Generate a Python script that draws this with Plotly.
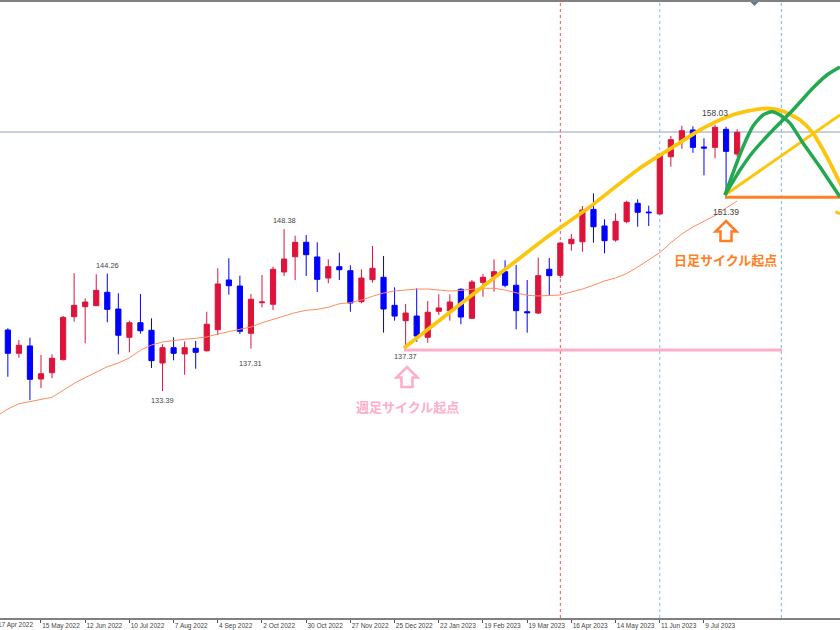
import plotly.graph_objects as go

# Weeks are counted from 15 May 2022 (week 0)
weeks = list(range(-4, 64))
opens = [136.54,139.04,136.88,137.56,134.50,135.08,136.29,140.27,141.20,141.29,142.53,140.98,138.36,139.71,139.01,135.98,
         137.40,136.82,137.34,137.12,139.07,143.67,143.11,138.73,141.57,141.42,144.41,145.82,147.16,145.80,143.85,144.90,
         144.53,141.66,143.70,143.92,141.32,139.90,140.33,138.36,140.77,140.83,142.81,140.12,143.45,143.95,144.44,143.18,
         140.73,140.61,144.66,144.10,147.03,147.21,150.21,148.67,147.37,149.07,150.77,149.96,149.78,155.08,156.57,157.56,
         155.98,155.95,157.62,155.33]
highs = [138.76,139.20,138.11,138.33,136.72,136.79,140.33,144.29,141.97,144.20,144.26,142.44,139.90,142.37,140.12,137.71,
         138.36,137.99,138.02,140.73,144.75,145.68,144.07,142.37,144.13,144.90,148.38,147.77,147.83,147.16,145.58,146.20,
         145.03,144.66,146.82,145.89,142.99,141.45,142.90,141.72,142.34,142.34,142.90,143.67,144.22,145.58,145.49,145.06,
         143.67,145.73,145.70,147.16,147.93,150.52,151.69,149.29,149.84,151.01,151.14,150.55,155.33,157.00,157.95,157.90,
         156.79,158.03,157.86,157.62]
lows = [136.54,134.71,136.47,132.56,133.67,134.57,136.23,139.81,137.81,141.26,139.75,136.79,136.97,138.70,135.52,133.39,
        136.23,134.90,135.45,137.03,138.58,142.31,138.67,137.31,141.14,140.89,144.04,143.67,144.04,142.56,143.36,143.67,
        140.73,141.51,143.42,138.79,139.90,137.37,137.95,137.86,140.43,139.90,139.57,140.08,142.12,142.58,142.99,139.10,
        138.79,140.52,142.28,143.85,146.38,146.29,147.12,146.14,147.21,148.92,148.60,148.67,149.75,154.16,155.80,155.45,
        153.36,154.94,151.39,155.08]
closes = [138.76,136.88,137.62,134.47,134.99,136.42,140.21,141.32,141.63,142.71,140.95,138.55,139.71,138.97,136.20,137.40,
          136.88,137.40,136.97,139.57,143.30,143.14,138.92,141.88,141.63,144.66,145.61,147.16,146.01,143.73,144.90,144.62,
          141.54,143.85,144.75,140.98,140.33,140.61,138.48,140.68,141.08,141.63,140.24,143.48,143.92,144.44,143.18,140.83,
          140.64,144.07,144.07,147.09,147.44,150.15,148.60,147.31,149.10,150.86,149.94,149.90,155.31,156.66,157.49,155.95,
          155.89,157.81,155.58,157.34]
ma = [131.08,131.72,132.21,132.40,132.56,132.81,133.45,134.10,134.62,135.15,135.64,135.98,136.45,137.16,137.65,137.93,
      138.08,138.18,138.27,138.39,138.67,138.88,139.04,139.32,139.71,140.03,140.31,140.64,140.86,140.95,141.14,141.47,
      141.57,141.82,142.16,142.46,142.65,142.74,142.83,142.83,142.74,142.65,142.71,142.81,142.90,142.90,142.74,142.49,
      142.25,142.19,142.21,142.28,142.56,142.83,143.18,143.58,143.85,144.27,144.87,145.52,146.20,147.12,147.93,148.58,
      149.13,149.64,150.33,150.98]

tick_weeks = [0, 4, 8, 12, 16, 20, 24, 28, 32, 36, 40, 44, 48, 52, 56, 60]
tick_labels = ["15 May 2022", "12 Jun 2022", "10 Jul 2022", "7 Aug 2022", "4 Sep 2022", "2 Oct 2022", "30 Oct 2022",
               "27 Nov 2022", "25 Dec 2022", "22 Jan 2023", "19 Feb 2023", "19 Mar 2023", "16 Apr 2023", "14 May 2023",
               "11 Jun 2023", "9 Jul 2023"]

arc_weeks = [32.85, 46.06, 49.68, 54.21, 57.19, 59.64, 62.08, 63.89, 65.70, 67.15, 68.69, 69.86, 71.13, 72.31, 72.58]
arc_prices = [137.37, 147.83, 150.45, 154.04, 155.98, 157.56, 158.76, 159.30, 159.55, 159.30, 158.48, 157.28, 155.06, 152.65, 152.09]
tail_weeks = [71.90, 72.31]
tail_prices = [150.00, 149.80]
ray_weeks = [61.9, 72.31]
ray_prices = [151.54, 158.95]
green1_weeks = [61.9, 62.62, 63.53, 64.43, 65.34, 66.15, 66.88, 67.78, 68.96, 70.50, 72.31]
green1_prices = [151.54, 153.57, 155.98, 157.90, 158.95, 159.25, 158.95, 158.20, 156.35, 154.13, 151.35]
green2_weeks = [61.9, 63.26, 64.43, 66.24, 68.05, 69.86, 71.13, 72.31]
green2_prices = [151.54, 153.85, 155.52, 157.56, 159.41, 161.44, 162.65, 163.39]
weekly_base_weeks = [32.85, 67.06]
weekly_base_price = 137.19
daily_base_weeks = [61.9, 72.4]
daily_base_price = 151.32
level_price = 157.37

vlines = [(47, "#ff4d4d"), (56, "#7cc0ff"), (67, "#6fb0f0")]

# text, week, price, vertical offset in px, font size
price_labels = [("144.26", 6, 144.26, 8, 7.4), ("133.39", 11, 133.39, -9, 7.4), ("137.31", 19, 137.31, -15, 7.4),
                ("148.38", 22, 148.38, 9, 7.4), ("137.37", 33, 137.37, -8, 7.4), ("158.03", 61, 158.03, 12, 8.5),
                ("151.39", 62, 151.39, -15, 8.5)]

X0, X1 = -3.71, 72.31
Y0, Y1 = 112.37, 169.41
YELLOW, GREEN, ORANGE, PINK = "#fcc60f", "#22a84f", "#ff7f27", "#ffaec9"
TEXT = "#444444"
P = lambda x, y: f"{x/840:.5f} {1-(y-2)/616:.5f}"


def arrow(cx, top, col):
    pts = [(cx, top), (cx + 10.5, top + 10.5), (cx + 5.5, top + 10.5), (cx + 5.5, top + 20),
           (cx - 5.5, top + 20), (cx - 5.5, top + 10.5), (cx - 10.5, top + 10.5)]
    path = "M " + " L ".join(f"{x/840:.5f} {1-(y-2)/616:.5f}" for x, y in pts) + " Z"
    return dict(type="path", xref="paper", yref="paper", path=path,
                line=dict(color=col, width=2.6), fillcolor="white")


fig = go.Figure()
fig.add_trace(go.Candlestick(
    x=weeks, open=opens, high=highs, low=lows, close=closes, whiskerwidth=0,
    increasing=dict(line=dict(color="#dc143c", width=1), fillcolor="#dc143c"),
    decreasing=dict(line=dict(color="#0000ff", width=1), fillcolor="#0000ff"),
    hoverinfo="skip"))
fig.add_trace(go.Scatter(x=weeks, y=ma, mode="lines", line=dict(color="#ff8a5c", width=1)))
fig.add_trace(go.Scatter(x=weekly_base_weeks, y=[weekly_base_price] * 2, mode="lines", line=dict(color=PINK, width=3)))
fig.add_trace(go.Scatter(x=daily_base_weeks, y=[daily_base_price] * 2, mode="lines", line=dict(color=ORANGE, width=3)))
fig.add_trace(go.Scatter(x=ray_weeks, y=ray_prices, mode="lines", line=dict(color=YELLOW, width=3)))
fig.add_trace(go.Scatter(x=arc_weeks, y=arc_prices, mode="lines", line=dict(color=YELLOW, width=3.8, shape="spline", smoothing=0.6)))
fig.add_trace(go.Scatter(x=tail_weeks, y=tail_prices, mode="lines", line=dict(color=YELLOW, width=3)))
fig.add_trace(go.Scatter(x=green1_weeks, y=green1_prices, mode="lines", line=dict(color=GREEN, width=3.5, shape="spline", smoothing=0.6)))
fig.add_trace(go.Scatter(x=green2_weeks, y=green2_prices, mode="lines", line=dict(color=GREEN, width=3.5, shape="spline", smoothing=0.6)))

shapes = [dict(type="line", xref="paper", x0=0, x1=1, yref="y", y0=level_price, y1=level_price,
               line=dict(color="#93a0b8", width=1), layer="below")]
for w, col in vlines:
    shapes.append(dict(type="line", x0=w, x1=w, xref="x", yref="paper", y0=0, y1=1,
                       line=dict(color=col, width=1, dash="dot"), layer="below"))
shapes.append(arrow(407, 367, PINK))
shapes.append(arrow(726, 221, ORANGE))
shapes.append(dict(type="path", xref="paper", yref="paper", line=dict(width=0), fillcolor="#5f7f92",
                   path=f"M {P(750.5, 2)} L {P(758.5, 2)} L {P(754.5, 6)} Z"))

ann = [dict(x=w, y=p, xref="x", yref="y", text=t, showarrow=False, yanchor="middle", yshift=s, xanchor="center",
            font=dict(family="Liberation Sans", size=z, color=TEXT)) for t, w, p, s, z in price_labels]
ann.append(dict(x=407 / 840, y=1 - (406 - 2) / 616, xref="paper", yref="paper", text="<b>週足サイクル起点</b>", showarrow=False,
                xanchor="center", font=dict(family="Noto Sans CJK JP", size=13, color=PINK)))
ann.append(dict(x=725 / 840, y=1 - (260 - 2) / 616, xref="paper", yref="paper", text="<b>日足サイクル起点</b>", showarrow=False,
                xanchor="center", font=dict(family="Noto Sans CJK JP", size=13, color=ORANGE)))
ann.append(dict(x=-4.5 / 840, y=0, xref="paper", yref="paper", text="17 Apr 2022", showarrow=False, xanchor="left",
                yanchor="top", yshift=-1, font=dict(family="Liberation Sans", size=6.5, color=TEXT)))

fig.update_layout(
    width=840, height=630, margin=dict(l=0, r=0, t=2, b=12, autoexpand=False), showlegend=False,
    paper_bgcolor="white", plot_bgcolor="white", boxgap=0.33, shapes=shapes, annotations=ann,
    xaxis=dict(range=[X0, X1], rangeslider=dict(visible=False), showgrid=False, zeroline=False,
               tickmode="array", tickvals=tick_weeks, ticktext=tick_labels, ticks="outside", ticklen=3,
               tickcolor="#555555", tickwidth=1, ticklabelposition="outside right", showline=True, mirror=True,
               tickangle=0, automargin=False, linecolor="#808080", linewidth=1.5,
               tickfont=dict(family="Liberation Sans", size=6.5, color=TEXT)),
    yaxis=dict(range=[Y0, Y1], showgrid=False, zeroline=False, showticklabels=False, ticks="", automargin=False),
)
fig.write_html("out.html", config=dict(displayModeBar=False),
               post_script="document.body.style.margin='0';document.body.style.overflow='hidden';")
